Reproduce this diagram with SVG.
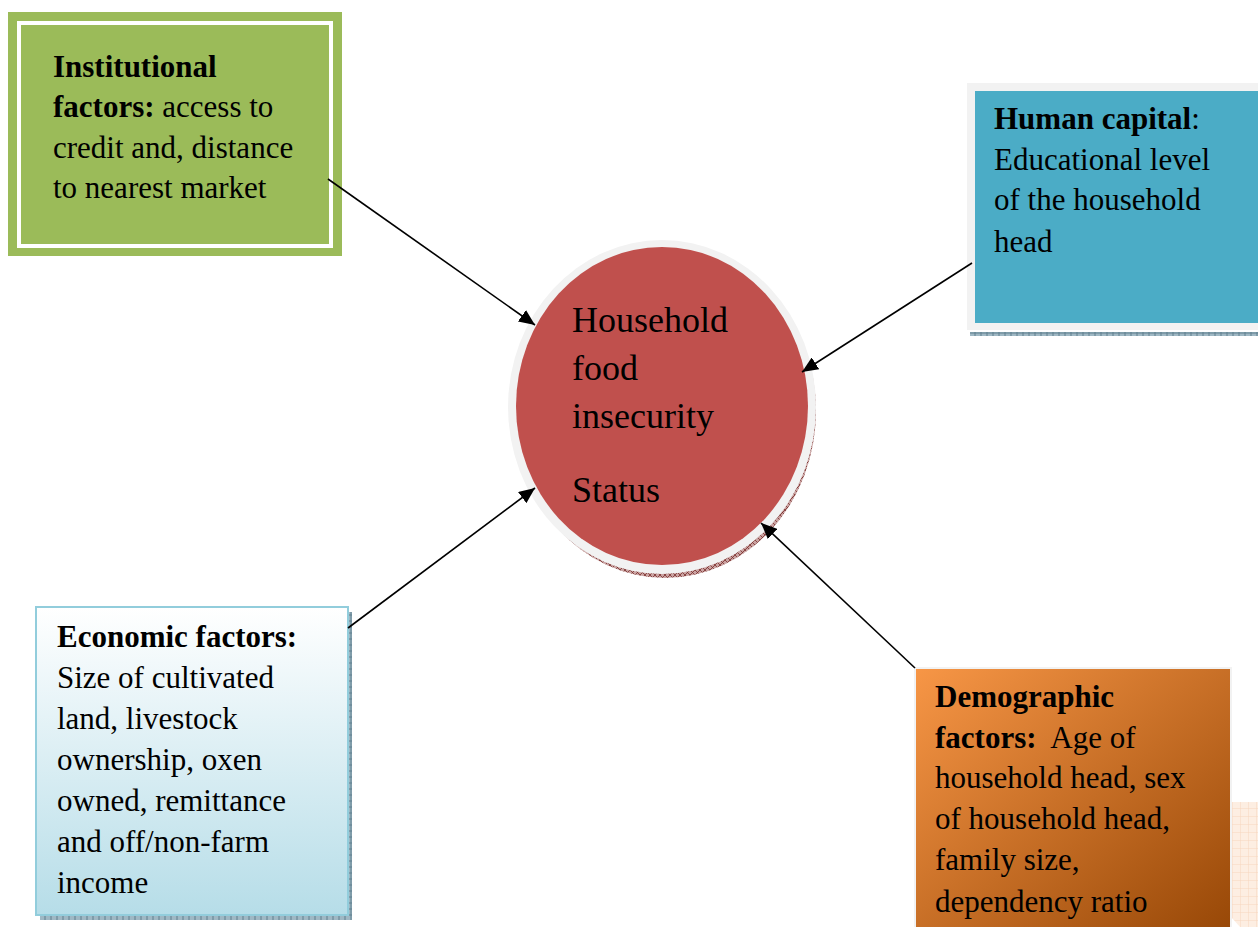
<svg xmlns="http://www.w3.org/2000/svg" width="1258" height="927" viewBox="0 0 1258 927">
<style>
text{font-family:"Liberation Serif","Times New Roman",serif;fill:#000}
.t{font-size:31px}
.c{font-size:36px}
.b{font-weight:bold}
.con{stroke:#000;stroke-width:1.6;fill:none}
</style>
<defs>
<marker id="ah" viewBox="0 0 16 14" refX="16" refY="7" markerWidth="16" markerHeight="14" markerUnits="userSpaceOnUse" orient="auto">
<path d="M0,0 L16,7 L0,14 z" fill="#000"/>
</marker>
<pattern id="hatchBlue" width="6" height="6" patternUnits="userSpaceOnUse">
<rect width="6" height="6" fill="#9FB8C4"/>
<path d="M0,3 H6 M3,0 V6" stroke="#5F7F8F" stroke-width="1"/>
</pattern>
<pattern id="hatchRed" width="5" height="5" patternUnits="userSpaceOnUse">
<rect width="5" height="5" fill="#C9A2A1"/>
<path d="M0,0 L5,5 M5,0 L0,5" stroke="#7A2E2C" stroke-width="0.8"/>
</pattern>
<pattern id="grid" width="8" height="8" patternUnits="userSpaceOnUse">
<rect width="8" height="8" fill="#FDEEE2"/>
<path d="M0,0 H8 M0,0 V8" stroke="#F7D6BE" stroke-width="1"/>
</pattern>
<linearGradient id="orange" x1="0" y1="0" x2="1" y2="1">
<stop offset="0" stop-color="#F79646"/>
<stop offset="1" stop-color="#984807"/>
</linearGradient>
<linearGradient id="econ" x1="0" y1="0" x2="0" y2="1">
<stop offset="0" stop-color="#FFFFFF"/>
<stop offset="1" stop-color="#B6DDE8"/>
</linearGradient>
</defs>

<g id="institutional">
<rect x="8" y="12" width="334" height="244" fill="#9BBB59"/>
<rect x="19" y="23" width="312" height="223" fill="none" stroke="#FFFFFF" stroke-width="4"/>
<text class="t" x="53" y="77"><tspan class="b">Institutional</tspan></text>
<text class="t" x="53" y="117"><tspan class="b">factors:</tspan> access to</text>
<text class="t" x="53" y="158">credit and, distance</text>
<text class="t" x="53" y="198">to nearest market</text>
</g>

<g id="human-capital">
<rect x="970" y="332" width="288" height="4" fill="url(#hatchBlue)"/>
<rect x="967" y="83" width="291" height="247" fill="#F2F2F2"/>
<rect x="975" y="91" width="283" height="232" fill="#4BACC6"/>
<text class="t" x="994" y="129"><tspan class="b">Human capital</tspan>:</text>
<text class="t" x="994" y="170">Educational level</text>
<text class="t" x="994" y="210">of the household</text>
<text class="t" x="994" y="252">head</text>
</g>

<g id="food-insecurity">
<ellipse cx="665" cy="411" rx="151" ry="167" fill="url(#hatchRed)"/>
<ellipse cx="662" cy="407" rx="154" ry="167" fill="#F2F2F2"/>
<ellipse cx="662" cy="406" rx="146" ry="159" fill="#C0504D"/>
<text class="c" x="572" y="332">Household</text>
<text class="c" x="572" y="380">food</text>
<text class="c" x="572" y="428">insecurity</text>
<text class="c" x="572" y="502">Status</text>
</g>

<g id="economic">
<rect x="40" y="914" width="312" height="6" fill="url(#hatchBlue)"/>
<rect x="347" y="612" width="5" height="308" fill="url(#hatchBlue)"/>
<rect x="36" y="607" width="312" height="308" fill="url(#econ)" stroke="#92CDDC" stroke-width="2"/>
<text class="t" x="57" y="647"><tspan class="b">Economic factors:</tspan></text>
<text class="t" x="57" y="688">Size of cultivated</text>
<text class="t" x="57" y="729">land, livestock</text>
<text class="t" x="57" y="770">ownership, oxen</text>
<text class="t" x="57" y="811">owned, remittance</text>
<text class="t" x="57" y="852">and off/non-farm</text>
<text class="t" x="57" y="893">income</text>
</g>

<g id="demographic">
<polygon points="1232,802 1258,802 1258,927 1240,927 1232,918" fill="url(#grid)"/>
<rect x="914" y="667" width="318" height="262" fill="#F2F2F2"/>
<rect x="916" y="669" width="314" height="260" fill="url(#orange)"/>
<text class="t" x="935" y="707"><tspan class="b">Demographic</tspan></text>
<text class="t" x="935" y="748"><tspan class="b">factors:</tspan>&#160; Age of</text>
<text class="t" x="935" y="788">household head, sex</text>
<text class="t" x="935" y="829">of household head,</text>
<text class="t" x="935" y="870">family size,</text>
<text class="t" x="935" y="912">dependency ratio</text>
</g>

<g id="connectors">
<line class="con" x1="328" y1="179" x2="535" y2="325" marker-end="url(#ah)"/>
<line class="con" x1="972" y1="263" x2="802" y2="372" marker-end="url(#ah)"/>
<line class="con" x1="348" y1="628" x2="535" y2="488" marker-end="url(#ah)"/>
<line class="con" x1="915" y1="668" x2="761" y2="523" marker-end="url(#ah)"/>
</g>
</svg>
